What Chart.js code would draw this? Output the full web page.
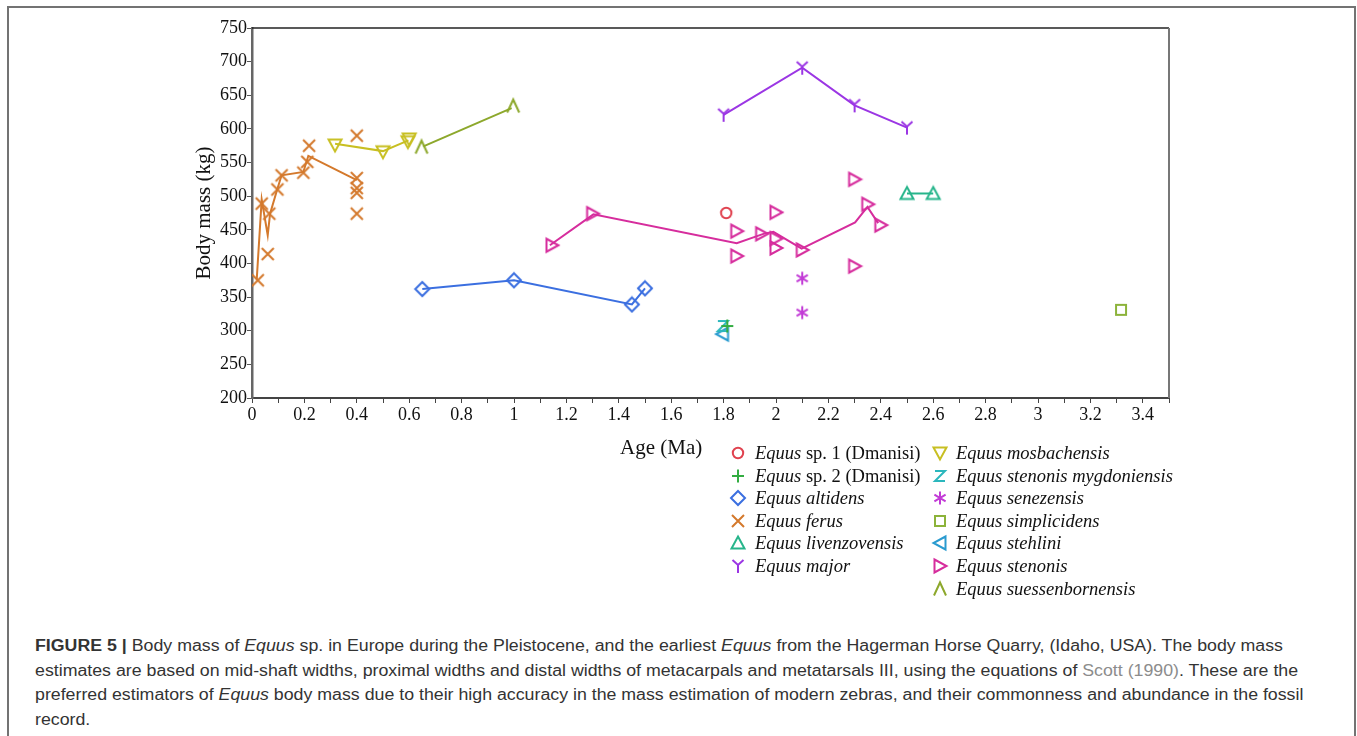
<!DOCTYPE html>
<html><head><meta charset="utf-8">
<script src="https://cdn.jsdelivr.net/npm/chart.js@4.4.0/dist/chart.umd.min.js"></script>
<style>
html,body{margin:0;padding:0;background:#fff;width:1357px;height:736px;overflow:hidden;position:relative;}
#frame{position:absolute;left:7px;top:6px;width:1349px;height:780px;border:2px solid #737373;border-bottom:none;box-sizing:border-box;}
#wrap{position:absolute;left:140px;top:14px;width:1050px;height:440px;}
.serif{font-family:'Liberation Serif','Times New Roman',serif;color:#111;}
#xtitle{position:absolute;left:620px;top:435px;font-size:21px;line-height:24px;white-space:nowrap;}
.legtxt{position:absolute;font-size:18.5px;line-height:22px;white-space:nowrap;}
.legsym{position:absolute;}
#caption{position:absolute;left:35px;top:634px;font-family:'Liberation Sans',Arial,sans-serif;font-size:16px;color:#333;}
#caption div{white-space:nowrap;height:24.6px;line-height:24.6px;transform-origin:0 50%;}
</style></head>
<body>
<div id="frame"></div>
<div id="wrap"><canvas id="c"></canvas></div>
<div id="xtitle" class="serif">Age (Ma)</div>
<div id="legend" class="serif"></div>
<div id="caption">
<div><b>FIGURE 5 |</b> Body mass of <i>Equus</i> sp. in Europe during the Pleistocene, and the earliest <i>Equus</i> from the Hagerman Horse Quarry, (Idaho, USA). The body mass</div>
<div>estimates are based on mid-shaft widths, proximal widths and distal widths of metacarpals and metatarsals III, using the equations of <span style="color:#8c8c8c">Scott (1990)</span>. These are the</div>
<div>preferred estimators of <i>Equus</i> body mass due to their high accuracy in the mass estimation of modern zebras, and their commonness and abundance in the fossil</div>
<div>record.</div>
</div>
<script>
// ---- data (Age in Ma, body mass in kg) ----
const xTicks = [0,0.2,0.4,0.6,0.8,1,1.2,1.4,1.6,1.8,2,2.2,2.4,2.6,2.8,3,3.2,3.4];
const yTicks = [200,250,300,350,400,450,500,550,600,650,700,750];

const sp1Age = [1.81];            const sp1Mass = [475];
const sp2Age = [1.814];           const sp2Mass = [307];
const altidensAge = [0.65, 1.0, 1.45, 1.5];
const altidensMass = [362, 375, 339, 363];
const ferusAge = [0.022, 0.037, 0.06, 0.066, 0.097, 0.113, 0.196, 0.211, 0.218, 0.4, 0.4, 0.4, 0.4, 0.4];
const ferusMass = [375, 489, 414, 474, 510, 531, 535, 551, 575, 590, 527, 512, 505, 474];
const livenzAge = [2.5, 2.6];     const livenzMass = [504, 504];
const majorAge = [1.8, 2.1, 2.3, 2.5];
const majorMass = [621, 691, 635, 602];
const mosbachAge = [0.317, 0.5, 0.595, 0.6];
const mosbachMass = [576, 566, 581, 585];
const mygdonAge = [1.797];        const mygdonMass = [307];
const senezAge = [2.1, 2.1];      const senezMass = [378, 327];
const simplicAge = [3.317];       const simplicMass = [331];
const stehliniAge = [1.796];      const stehliniMass = [295];
const stenonisAge = [1.145, 1.3, 1.85, 1.85, 1.945, 2.0, 2.0, 2.0, 2.1, 2.3, 2.3, 2.35, 2.4];
const stenonisMass = [427, 474, 448, 411, 444, 476, 437, 423, 420, 525, 396, 488, 457];
const suessAge = [0.647, 0.997];  const suessMass = [573, 634];

// trend lines
const ferusLineAge = [0.018, 0.037, 0.06, 0.069, 0.097, 0.113, 0.196, 0.215, 0.4];
const ferusLineMass = [376, 495, 442, 474, 511, 531, 536, 560, 524];
const mosbachLineAge = [0.317, 0.5, 0.597];
const mosbachLineMass = [578, 567, 583];
const suessLineAge = [0.654, 0.991];
const suessLineMass = [574, 631];
const altidensLineAge = [0.65, 1.0, 1.45, 1.5];
const altidensLineMass = [362, 375, 339, 363];
const stenonisLineAge = [1.137, 1.303, 1.85, 1.952, 1.99, 2.098, 2.302, 2.349, 2.39];
const stenonisLineMass = [427, 473, 430, 444, 447, 422, 461, 484, 460];
const livenzLineAge = [2.5, 2.6];
const livenzLineMass = [504, 504];
const majorLineAge = [1.8, 2.1, 2.3, 2.5];
const majorLineMass = [621, 691, 635, 602];

const series = [
  {label:'<i>Equus</i> sp. 1 (Dmanisi)', age:sp1Age, mass:sp1Mass, marker:'circle', color:'#e0424f', col:0, row:0},
  {label:'<i>Equus</i> sp. 2 (Dmanisi)', age:sp2Age, mass:sp2Mass, marker:'plus', color:'#33ad42', col:0, row:1},
  {label:'<i>Equus altidens</i>', age:altidensAge, mass:altidensMass, marker:'diamond', color:'#3b6fe0', col:0, row:2, lineAge:altidensLineAge, lineMass:altidensLineMass},
  {label:'<i>Equus ferus</i>', age:ferusAge, mass:ferusMass, marker:'x', color:'#d4792c', col:0, row:3, lineAge:ferusLineAge, lineMass:ferusLineMass},
  {label:'<i>Equus livenzovensis</i>', age:livenzAge, mass:livenzMass, marker:'triUp', color:'#27b58b', col:0, row:4, lineAge:livenzLineAge, lineMass:livenzLineMass},
  {label:'<i>Equus major</i>', age:majorAge, mass:majorMass, marker:'Y', color:'#9b36e4', col:0, row:5, lineAge:majorLineAge, lineMass:majorLineMass},
  {label:'<i>Equus mosbachensis</i>', age:mosbachAge, mass:mosbachMass, marker:'triDown', color:'#c8bf22', col:1, row:0, lineAge:mosbachLineAge, lineMass:mosbachLineMass},
  {label:'<i>Equus stenonis mygdoniensis</i>', age:mygdonAge, mass:mygdonMass, marker:'Z', color:'#2bb7bd', col:1, row:1},
  {label:'<i>Equus senezensis</i>', age:senezAge, mass:senezMass, marker:'star', color:'#c23bd6', col:1, row:2},
  {label:'<i>Equus simplicidens</i>', age:simplicAge, mass:simplicMass, marker:'square', color:'#8cb33a', col:1, row:3},
  {label:'<i>Equus stehlini</i>', age:stehliniAge, mass:stehliniMass, marker:'triLeft', color:'#2a9bd0', col:1, row:4},
  {label:'<i>Equus stenonis</i>', age:stenonisAge, mass:stenonisMass, marker:'triRight', color:'#d62d9d', col:1, row:5, lineAge:stenonisLineAge, lineMass:stenonisLineMass},
  {label:'<i>Equus suessenbornensis</i>', age:suessAge, mass:suessMass, marker:'lambda', color:'#8da82c', col:1, row:6, lineAge:suessLineAge, lineMass:suessLineMass}
];

// ---- marker drawing ----
function drawMarker(ctx, type, cx, cy, color){
  ctx.save();
  ctx.strokeStyle = color; ctx.lineWidth = 2; ctx.lineJoin='miter'; ctx.lineCap='butt';
  ctx.beginPath();
  switch(type){
    case 'circle': ctx.arc(cx, cy, 5.2, 0, Math.PI*2); break;
    case 'plus': ctx.moveTo(cx-6,cy); ctx.lineTo(cx+6,cy); ctx.moveTo(cx,cy-6.5); ctx.lineTo(cx,cy+6.5); break;
    case 'diamond': ctx.moveTo(cx,cy-7); ctx.lineTo(cx+7,cy); ctx.lineTo(cx,cy+7); ctx.lineTo(cx-7,cy); ctx.closePath(); break;
    case 'x': ctx.moveTo(cx-6,cy-6); ctx.lineTo(cx+6,cy+6); ctx.moveTo(cx+6,cy-6); ctx.lineTo(cx-6,cy+6); break;
    case 'triUp': ctx.moveTo(cx,cy-6.5); ctx.lineTo(cx+6.5,cy+5.5); ctx.lineTo(cx-6.5,cy+5.5); ctx.closePath(); break;
    case 'triDown': ctx.moveTo(cx-6.5,cy-5.5); ctx.lineTo(cx+6.5,cy-5.5); ctx.lineTo(cx,cy+6.5); ctx.closePath(); break;
    case 'triRight': ctx.moveTo(cx-5.5,cy-6.5); ctx.lineTo(cx+6.5,cy); ctx.lineTo(cx-5.5,cy+6.5); ctx.closePath(); break;
    case 'triLeft': ctx.moveTo(cx+5.5,cy-6.5); ctx.lineTo(cx-6.5,cy); ctx.lineTo(cx+5.5,cy+6.5); ctx.closePath(); break;
    case 'Y': ctx.moveTo(cx-5.5,cy-6); ctx.lineTo(cx,cy-1); ctx.lineTo(cx+5.5,cy-6); ctx.moveTo(cx,cy-1); ctx.lineTo(cx,cy+7); break;
    case 'Z': ctx.moveTo(cx-5,cy-5); ctx.lineTo(cx+5,cy-5); ctx.lineTo(cx-5,cy+5); ctx.lineTo(cx+5,cy+5); break;
    case 'star': ctx.moveTo(cx,cy-6.5); ctx.lineTo(cx,cy+6.5); ctx.moveTo(cx-5.6,cy-3.3); ctx.lineTo(cx+5.6,cy+3.3); ctx.moveTo(cx-5.6,cy+3.3); ctx.lineTo(cx+5.6,cy-3.3); break;
    case 'square': ctx.rect(cx-5,cy-5,10,10); break;
    case 'lambda': ctx.moveTo(cx-6,cy+6.5); ctx.lineTo(cx,cy-6.5); ctx.lineTo(cx+6,cy+6.5); break;
  }
  ctx.stroke();
  ctx.restore();
}
function markerCanvas(type, color){
  const c = document.createElement('canvas');
  c.width = 18; c.height = 18;
  drawMarker(c.getContext('2d'), type, 9, 9, color);
  return c;
}
const toXY = (a, m) => a.map((x, i) => ({x, y: m[i]}));

const datasets = [];
series.forEach(s => {
  datasets.push({
    label: s.label, data: toXY(s.age, s.mass), showLine: false,
    pointStyle: markerCanvas(s.marker, s.color), pointRadius: 6, pointHoverRadius: 6,
    borderColor: s.color, backgroundColor: 'transparent'
  });
});
series.forEach(s => {
  if (!s.lineAge) return;
  datasets.push({
    label: s.label + ' trend', data: toXY(s.lineAge, s.lineMass), showLine: true,
    pointRadius: 0, borderColor: s.color, borderWidth: 2, tension: 0, backgroundColor: 'transparent'
  });
});

const framePlugin = {
  id: 'frameLines',
  afterDraw(chart){
    const {ctx, chartArea: a} = chart;
    ctx.save();
    ctx.strokeStyle = '#222'; ctx.lineWidth = 1.5;
    ctx.beginPath(); ctx.moveTo(a.left, a.top); ctx.lineTo(a.right, a.top); ctx.stroke();
    ctx.strokeStyle = '#777'; ctx.lineWidth = 2;
    ctx.beginPath(); ctx.moveTo(a.right, a.top); ctx.lineTo(a.right, a.bottom); ctx.stroke();
    ctx.restore();
  }
};

const serif = "'Liberation Serif','Times New Roman',serif";
new Chart(document.getElementById('c'), {
  type: 'scatter',
  data: { datasets },
  options: {
    responsive: true, maintainAspectRatio: false, animation: false,
    layout: { padding: { top: 14, right: 21, left: 0, bottom: 0 } },
    plugins: { legend: { display: false }, tooltip: { enabled: false } },
    scales: {
      x: {
        type: 'linear', min: 0, max: 3.5,
        afterBuildTicks(scale){
          const t = []; for (let i = 0; i <= 35; i++) t.push({value: i/10});
          scale.ticks = t;
        },
        afterFit(scale){ scale.height = 56; },
        ticks: {
          autoSkip: false, maxRotation: 0, padding: 1, color: '#111',
          font: { family: serif, size: 18 },
          callback(v){
            const r = Math.round(v*10)/10;
            return xTicks.some(t => Math.abs(t - r) < 1e-6) ? String(r) : '';
          }
        },
        grid: { drawOnChartArea: false, drawTicks: true, tickLength: 5, color: '#444' },
        border: { color: '#444', width: 2 }
      },
      y: {
        type: 'linear', min: 200, max: 750,
        afterBuildTicks(scale){ scale.ticks = yTicks.map(v => ({value: v})); },
        afterFit(scale){ scale.width = 112; },
        ticks: { padding: 0, color: '#111', font: { family: serif, size: 18 } },
        grid: { drawOnChartArea: false, drawTicks: true, tickLength: 5, color: '#555' },
        border: { color: '#666', width: 2.5 },
        title: { display: true, text: 'Body mass (kg)', color: '#111', font: { family: serif, size: 21 }, padding: { top: 52, bottom: 0 } }
      }
    }
  },
  plugins: [framePlugin]
});

// ---- legend ----
const leg = document.getElementById('legend');
const colSym = [738, 940], colTxt = [755, 956];
series.forEach(s => {
  const cy = 453 + s.row * 22.6;
  const cv = markerCanvas(s.marker, s.color);
  cv.className = 'legsym';
  cv.style.left = (colSym[s.col] - 9) + 'px';
  cv.style.top = (cy - 9) + 'px';
  leg.appendChild(cv);
  const d = document.createElement('div');
  d.className = 'legtxt';
  d.style.left = colTxt[s.col] + 'px';
  d.style.top = (cy - 11) + 'px';
  d.innerHTML = s.label;
  leg.appendChild(d);
});

// ---- caption width fit ----
const lines = document.querySelectorAll('#caption div');
const range = document.createRange(); range.selectNodeContents(lines[0]);
const tw = range.getBoundingClientRect().width;
const k = 1248 / tw;
lines.forEach(l => { l.style.transform = 'scaleX(' + k + ')'; });
</script>
</body></html>
